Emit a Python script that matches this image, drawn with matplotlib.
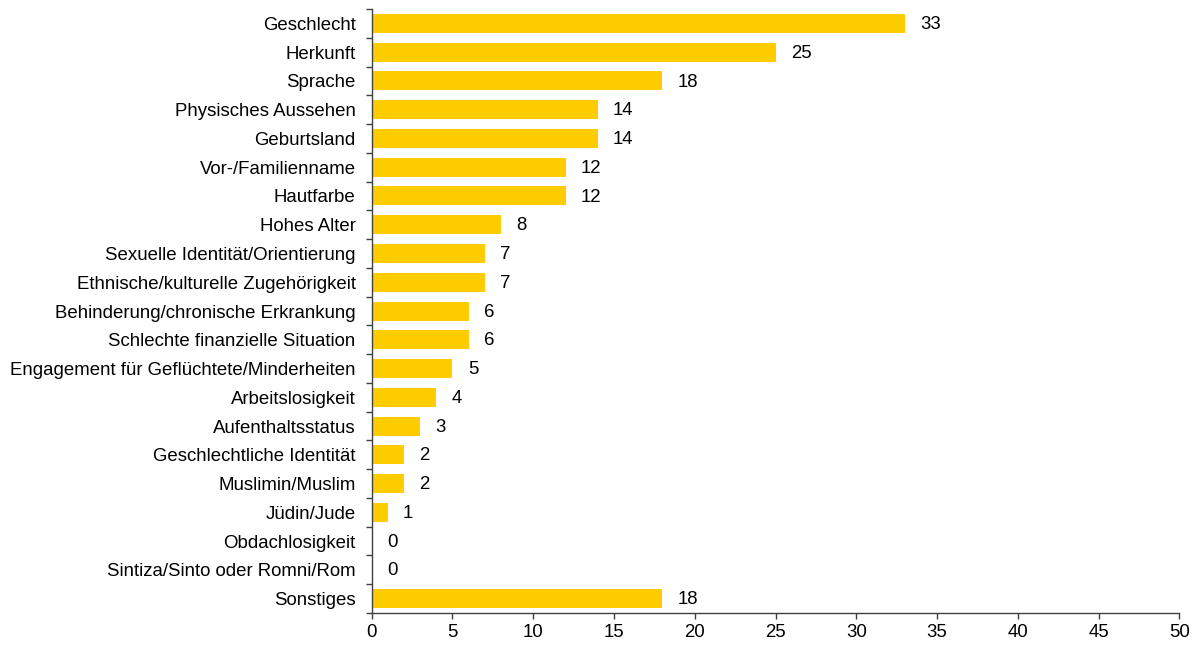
import matplotlib
matplotlib.use('Agg')
import matplotlib.pyplot as plt
import numpy as np

categories = ['Geschlecht', 'Herkunft', 'Sprache', 'Physisches Aussehen', 'Geburtsland',
              'Vor-/Familienname', 'Hautfarbe', 'Hohes Alter',
              'Sexuelle Identität/Orientierung', 'Ethnische/kulturelle Zugehörigkeit',
              'Behinderung/chronische Erkrankung', 'Schlechte finanzielle Situation',
              'Engagement für Geflüchtete/Minderheiten', 'Arbeitslosigkeit',
              'Aufenthaltsstatus', 'Geschlechtliche Identität', 'Muslimin/Muslim',
              'Jüdin/Jude', 'Obdachlosigkeit', 'Sintiza/Sinto oder Romni/Rom', 'Sonstiges']
values = [33, 25, 18, 14, 14, 12, 12, 8, 7, 7, 6, 6, 5, 4, 3, 2, 2, 1, 0, 0, 18]

plt.rcParams['font.family'] = ['Liberation Sans', 'DejaVu Sans']
fs = 13.4

fig = plt.figure(figsize=(11.95, 6.45), dpi=100)
ax = fig.add_axes([0.311, 0.0496, 0.987 - 0.311, 0.986 - 0.0496])

y = np.arange(len(categories))
ax.barh(y, values, height=0.66, color='#FFCC00')
for yi, v in zip(y, values):
    ax.annotate(str(v), (v, yi), xytext=(11, -0.8), textcoords='offset points',
                va='center', ha='left', fontsize=fs)

ax.set_ylim(len(categories) - 0.5, -0.5)
ax.set_xlim(0, 50)
ax.set_xticks(range(0, 51, 5))
ax.set_yticks(y)
ax.set_yticklabels(categories)
ax.set_yticks(np.arange(-0.5, len(categories)), minor=True)
ax.tick_params(axis='y', which='major', length=0, pad=11.5, labelsize=fs)
ax.tick_params(axis='y', which='minor', length=4, width=1, color='#404040')
ax.tick_params(axis='x', length=4, width=1, color='#404040', labelsize=fs, pad=4)

for s in ['top', 'right']:
    ax.spines[s].set_visible(False)
for s in ['left', 'bottom']:
    ax.spines[s].set_color('#404040')
    ax.spines[s].set_linewidth(1)

fig.savefig('out.png', dpi=100)
